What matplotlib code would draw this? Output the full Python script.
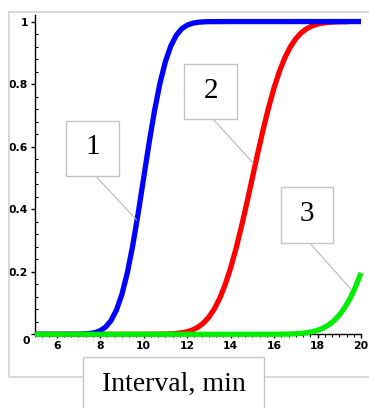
import matplotlib
matplotlib.use('Agg')
import matplotlib.pyplot as plt
from matplotlib.patches import Rectangle
from matplotlib.lines import Line2D
from matplotlib.ticker import MultipleLocator, FixedLocator

# ---- data ----
blue_x = [5, 6, 7, 7.25, 7.5, 7.75, 8, 8.25, 8.5, 8.75, 9, 9.25, 9.5, 9.75, 10,
          10.25, 10.5, 10.75, 11, 11.25, 11.5, 11.75, 12, 12.25, 12.5, 12.75, 13, 14, 16, 18, 20]
blue_y = [0, 0, 0.0003, 0.0009, 0.0023, 0.0053, 0.0115, 0.0234, 0.0441, 0.0778, 0.128, 0.197,
          0.285, 0.388, 0.5, 0.612, 0.715, 0.803, 0.872, 0.922, 0.956, 0.977, 0.9885, 0.9947,
          0.9977, 0.9991, 0.9997, 1.0, 1.0, 1.0, 1.0]

red_x = [5, 8, 10, 11, 11.25, 11.5, 11.75, 12, 12.25, 12.5, 12.75, 13, 13.25, 13.5, 13.75, 14,
         14.25, 14.5, 14.75, 15, 15.25, 15.5, 15.75, 16, 16.25, 16.5, 16.75, 17, 17.25, 17.5,
         17.75, 18, 18.25, 18.5, 18.75, 19, 19.4]
red_y = [0, 0, 0, 0.0007, 0.0013, 0.0026, 0.0047, 0.0082, 0.0139, 0.0228, 0.0359, 0.0548,
         0.0808, 0.1151, 0.1587, 0.2119, 0.2743, 0.3446, 0.4207, 0.5, 0.5793, 0.6554, 0.7257,
         0.7881, 0.8413, 0.8849, 0.9192, 0.9452, 0.9641, 0.9772, 0.9861, 0.9918, 0.9953,
         0.9974, 0.9987, 0.9994, 0.9997]

green_x = [5, 10, 12, 14, 16, 16.5, 17, 17.25, 17.5, 17.75, 18, 18.25, 18.5, 18.75, 19,
           19.25, 19.5, 19.75, 20]
green_y = [0, 0, 0, 0, 0.00015, 0.0005, 0.0017, 0.0030, 0.0050, 0.0080, 0.0127, 0.0196,
           0.0294, 0.0430, 0.0612, 0.0850, 0.1151, 0.152, 0.1963]

x_ticks = [6, 8, 10, 12, 14, 16, 18, 20]
x_ticklabels = ['6', '8', '10', '12', '14', '16', '18', '20']
y_ticks = [0, 0.2, 0.4, 0.6, 0.8, 1.0]
y_ticklabels = ['', '0.2', '0.4', '0.6', '0.8', '1']
curve_labels = ['1', '2', '3']
xlabel_text = 'Interval, min'

# ---- figure ----
W, H = 369, 408
fig = plt.figure(figsize=(W / 100, H / 100), dpi=100)


def fx(x):
    return x / W


def fy(y):
    return 1 - y / H


# outer frame
fig.patches.append(Rectangle((fx(9), fy(377)), fx(380) - fx(9), fy(12) - fy(377),
                             transform=fig.transFigure, fill=False,
                             edgecolor='#d6d6d6', lw=1.3, zorder=0))

ax = fig.add_axes([fx(35), fy(334.3), fx(361) - fx(35), fy(15) - fy(334.3)])
ax.set_xlim(5, 20)
ax.set_ylim(0, 1.021)
ax.patch.set_alpha(0)

lw = 3.8
ax.plot(red_x, red_y, color='#ff0000', lw=lw, zorder=2, clip_on=False, solid_capstyle='butt')
ax.plot(blue_x, blue_y, color='#0000ff', lw=lw, zorder=3, clip_on=False, solid_capstyle='butt')
ax.plot(green_x, green_y, color='#00ee00', lw=lw, zorder=4, clip_on=False, solid_capstyle='butt')

for s in ['top', 'right']:
    ax.spines[s].set_visible(False)
for s in ['left', 'bottom']:
    ax.spines[s].set_color('black')
    ax.spines[s].set_linewidth(1.0)

tick_font = dict(family='DejaVu Sans', weight='bold', size=7.8)
ax.xaxis.set_major_locator(FixedLocator(x_ticks))
ax.set_xticklabels(x_ticklabels, **tick_font)
ax.xaxis.set_minor_locator(MultipleLocator(1 / 3))
ax.yaxis.set_major_locator(FixedLocator(y_ticks))
ax.set_yticklabels(y_ticklabels, **tick_font)
ax.yaxis.set_minor_locator(MultipleLocator(0.04))

ax.tick_params(axis='x', which='major', direction='out', length=3, width=1, pad=2)
ax.tick_params(axis='x', which='minor', direction='out', length=2.2, width=0.8)
ax.tick_params(axis='y', which='major', direction='out', length=3, width=1, pad=2)
ax.tick_params(axis='y', which='minor', direction='in', length=2.2, width=0.8)

ax.annotate('0', xy=(5, 0), xytext=(-9, -6.5), textcoords='offset pixels',
            ha='center', va='center', **tick_font, annotation_clip=False)

# callout boxes
serif = 'Liberation Serif'
boxes = [(66, 120.7, 119.3, 176), (183.7, 64.3, 237.3, 119.3), (280.7, 187.3, 333.3, 243.3)]
leaders = [((95.7, 176), (136.7, 220)), ((213.3, 119.3), (253.3, 163.3)),
           ((310, 243.3), (351.7, 290))]
for lab, (x0, y0, x1, y1), (p, q) in zip(curve_labels, boxes, leaders):
    fig.lines.append(Line2D([fx(p[0]), fx(q[0])], [fy(p[1]), fy(q[1])],
                            transform=fig.transFigure, color='#b0b0b0', lw=0.7, zorder=5))
    fig.patches.append(Rectangle((fx(x0), fy(y1)), fx(x1) - fx(x0), fy(y0) - fy(y1),
                                 transform=fig.transFigure, facecolor='white',
                                 edgecolor='#c4c4c4', lw=1.0, zorder=6))
    fig.text(fx((x0 + x1) / 2), fy((y0 + y1) / 2 - 1), lab, ha='center', va='center',
             family=serif, size=21, zorder=7)

# x-label box
fig.patches.append(Rectangle((fx(82.7), fy(412)), fx(264.3) - fx(82.7), fy(357.3) - fy(412),
                             transform=fig.transFigure, facecolor='white',
                             edgecolor='#c4c4c4', lw=1.0, zorder=6))
fig.text(fx(173.5), fy(384), xlabel_text, ha='center', va='center',
         family=serif, size=20, zorder=7)

fig.savefig('out.png', dpi=100)
